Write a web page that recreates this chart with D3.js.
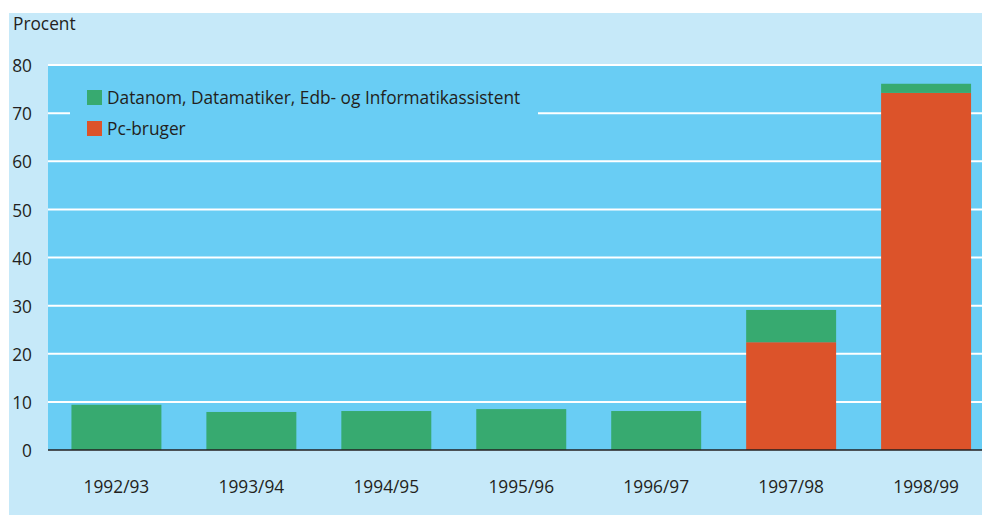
<!DOCTYPE html>
<html>
<head>
<meta charset="utf-8">
<script src="https://cdn.jsdelivr.net/npm/d3@7"></script>
<style>
  body { margin: 0; background: #fff; }
  svg { display: block; }
  text { font-family: "Open Sans", sans-serif; fill: #231f20; }
</style>
</head>
<body>
<svg width="982" height="515"></svg>
<script>
// data
var years = ["1992/93", "1993/94", "1994/95", "1995/96", "1996/97", "1997/98", "1998/99"];
var pcBruger = [0, 0, 0, 0, 0, 22.4, 74.2];
var datanom = [9.4, 7.9, 8.1, 8.5, 8.1, 6.7, 1.9];
var seriesNames = ["Datanom, Datamatiker, Edb- og Informatikassistent", "Pc-bruger"];
var yTicks = [0, 10, 20, 30, 40, 50, 60, 70, 80];

var svg = d3.select("svg"),
    width = 982,
    height = 515;

var colors = { datanom: "#37aa70", pc: "#dc532a" };

// outer panel
svg.append("rect")
    .attr("x", 9).attr("y", 13)
    .attr("width", width - 9).attr("height", height - 13)
    .attr("fill", "#c6e9f9");

var plotLeft = 48, plotRight = 982;

var y = d3.scaleLinear().domain([0, 80]).range([450, 65]);

var x = d3.scaleBand()
    .domain(years)
    .range([48.5, 994])
    .paddingInner(1 / 3)
    .paddingOuter(0.17);

// plot area
svg.append("rect")
    .attr("x", plotLeft).attr("y", y(80))
    .attr("width", plotRight - plotLeft).attr("height", y(0) - y(80))
    .attr("fill", "#69cdf4");

// gridlines
svg.append("g")
    .selectAll("line")
    .data(yTicks.filter(function(d) { return d > 0; }))
    .enter().append("line")
    .attr("x1", plotLeft).attr("x2", plotRight)
    .attr("y1", function(d) { return y(d); })
    .attr("y2", function(d) { return y(d); })
    .attr("stroke", "#fff")
    .attr("stroke-width", 2);

// legend box hides part of the 70 gridline
svg.append("rect")
    .attr("x", 70).attr("y", 80)
    .attr("width", 468).attr("height", 65)
    .attr("fill", "#69cdf4");

// stacked bars
var stackData = years.map(function(yr, i) {
  return { year: yr, pc: pcBruger[i], datanom: datanom[i] };
});
var stack = d3.stack().keys(["pc", "datanom"])(stackData);

svg.append("g")
    .selectAll("g")
    .data(stack)
    .enter().append("g")
    .attr("fill", function(d) { return colors[d.key]; })
    .selectAll("rect")
    .data(function(d) { return d.filter(function(p) { return p[1] - p[0] > 0; }); })
    .enter().append("rect")
    .attr("x", function(d) { return x(d.data.year); })
    .attr("width", x.bandwidth())
    .attr("y", function(d) { return y(d[1]); })
    .attr("height", function(d) { return y(d[0]) - y(d[1]); });

// baseline
svg.append("line")
    .attr("x1", plotLeft).attr("x2", plotRight)
    .attr("y1", y(0)).attr("y2", y(0))
    .attr("stroke", "#231f20")
    .attr("stroke-width", 1.5);

// y axis labels
var yAxis = d3.axisLeft(y).tickValues(yTicks).tickSize(0).tickPadding(0);
var gy = svg.append("g")
    .attr("transform", "translate(32,0)")
    .call(yAxis);
gy.select(".domain").remove();
gy.selectAll("text")
    .attr("font-size", 19)
    .attr("dy", "0.35em")
    .style("font-family", null);

// x axis labels
var xAxis = d3.axisBottom(x).tickSize(0).tickPadding(0);
var gx = svg.append("g")
    .attr("transform", "translate(0,486)")
    .call(xAxis);
gx.select(".domain").remove();
gx.selectAll("text")
    .attr("font-size", 19)
    .attr("dy", "0.35em")
    .style("font-family", null);

// axis title
svg.append("text")
    .attr("x", 13).attr("y", 30)
    .attr("font-size", 19)
    .text("Procent");

// legend
var legend = svg.append("g");
var legendColors = [colors.datanom, colors.pc];
seriesNames.forEach(function(name, i) {
  var ly = 97 + i * 31;
  legend.append("rect")
      .attr("x", 87).attr("y", ly - 7)
      .attr("width", 15).attr("height", 15)
      .attr("fill", legendColors[i]);
  legend.append("text")
      .attr("x", 107).attr("y", ly)
      .attr("dy", "0.35em")
      .attr("font-size", 19)
      .text(name);
});

// squeeze text to the narrow look of the original font
svg.selectAll("text").each(function() {
  var w = this.getComputedTextLength();
  d3.select(this)
      .attr("textLength", w * 0.91)
      .attr("lengthAdjust", "spacingAndGlyphs");
});
</script>
</body>
</html>
